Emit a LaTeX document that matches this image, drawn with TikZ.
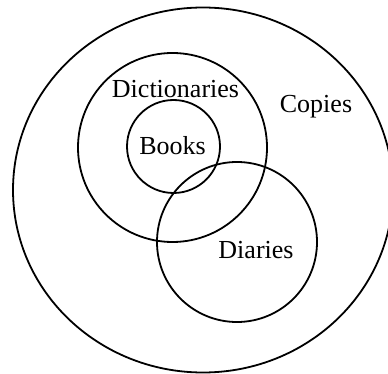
\documentclass[tikz,border=0pt]{standalone}
\usepackage{fontspec}
\setmainfont{Liberation Serif}
\usetikzlibrary{shapes.geometric}

\begin{document}
\begin{tikzpicture}[
    x=1pt, y=-1pt,
    ring/.style={circle, draw, line width=1.8pt, inner sep=0pt},
    setlabel/.style={anchor=base, inner sep=0pt, font=\fontsize{26}{30}\selectfont},
]
\useasboundingbox (0,0) rectangle (388,374);
\begin{scope}
\clip (0,0) rectangle (388,374);
\node[ellipse, draw, line width=1.8pt, inner sep=0pt, minimum width=380pt, minimum height=365pt] (copies) at (203,190) {};
\end{scope}
\node[ring, minimum size=189pt] (dict) at (172.5,147.5) {};
\node[ring, minimum size=93pt] (books) at (173.5,146.5) {};
\node[ring, minimum size=160pt] (diaries) at (237,242) {};

\node[setlabel] (dictlbl) at (175.5,98) {Dictionaries};
\node[setlabel] (bookslbl) at (172.5,155) {Books};
\node[setlabel] (copieslbl) at (316,113) {Copies};
\node[setlabel] (diarieslbl) at (256,258) {Diaries};
\end{tikzpicture}
\end{document}
